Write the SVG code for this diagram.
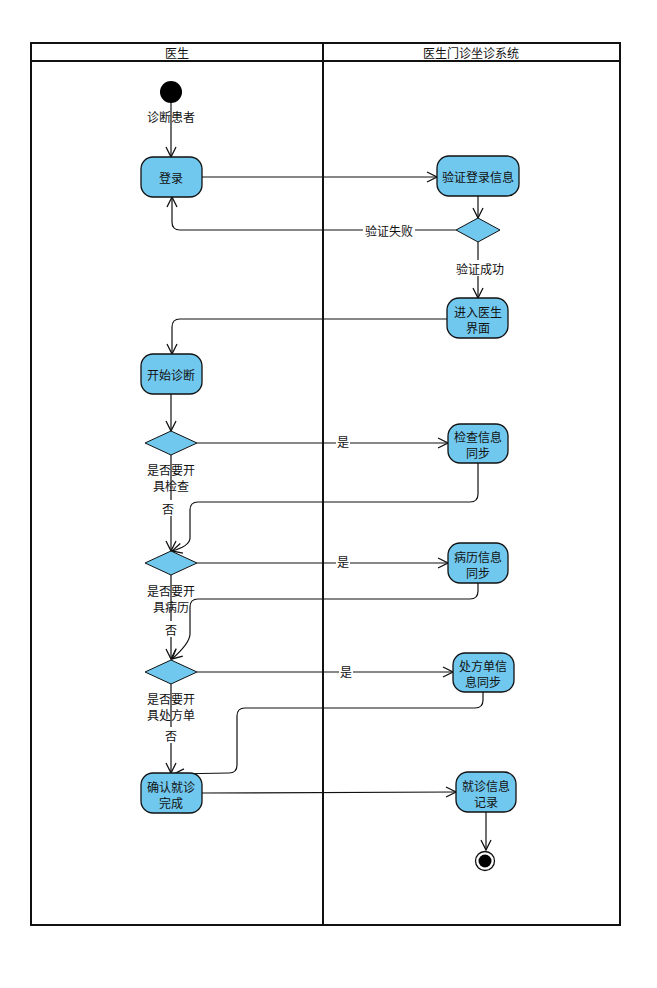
<svg xmlns="http://www.w3.org/2000/svg" width="657" height="988" viewBox="0 0 657 988">
  <style>
    text { font-family: "Noto Sans CJK SC", "Noto Sans", sans-serif; font-size: 12px; fill: #111; text-anchor: middle; dominant-baseline: central; }
    .act { fill: #71C8EE; stroke: #111; stroke-width: 1.3; }
    .dec { fill: #71C8EE; stroke: #111; stroke-width: 1; }
    .lane { fill: none; stroke: #111; stroke-width: 2; }
    .flow { fill: none; stroke: #111; stroke-width: 1.2; marker-end: url(#arrow); }
    .bg { fill: #fff; }
  </style>
  <defs>
    <marker id="arrow" viewBox="0 0 12 12" refX="11" refY="6" markerWidth="12" markerHeight="12" markerUnits="userSpaceOnUse" orient="auto">
      <path d="M1,1 L11,6 L1,11" fill="none" stroke="#111" stroke-width="1.3"/>
    </marker>
  </defs>

  <rect width="657" height="988" fill="#fff"/>

  <!-- swimlanes -->
  <g id="lanes">
    <rect class="lane" x="31" y="43" width="589" height="882"/>
    <line class="lane" x1="31" y1="61" x2="620" y2="61"/>
    <line class="lane" x1="323" y1="43" x2="323" y2="925"/>
    <text x="177" y="52">医生</text>
    <text x="471" y="52">医生门诊坐诊系统</text>
  </g>

  <!-- connectors -->
  <g id="connectors">
    <path class="flow" d="M171,103 L171,157"/>
    <path class="flow" d="M202,177 L437,177"/>
    <path class="flow" d="M478,196 L478,218"/>
    <path class="flow" d="M456,230 L180,230 Q172,230 172,222 L172,197"/>
    <path class="flow" d="M478,242 L478,298"/>
    <path class="flow" d="M447,319 L180,319 Q172,319 172,327 L172,354"/>
    <path class="flow" d="M171,394 L171,431"/>
    <path class="flow" d="M197,443 L448,443"/>
    <path class="flow" d="M478,463 L478,494 Q478,502 470,502 L198,502 Q190,502 190,510 L190,538 Q190,546 172,551"/>
    <path class="flow" d="M171,455 L171,551"/>
    <path class="flow" d="M197,563 L448,563"/>
    <path class="flow" d="M478,583 L478,591 Q478,599 470,599 L198,599 Q190,599 190,607 L190,634 Q190,643 172,659"/>
    <path class="flow" d="M171,575 L171,659"/>
    <path class="flow" d="M197,672 L453,672"/>
    <path class="flow" d="M483,692 L483,700 Q483,708 475,708 L245,708 Q237,708 237,716 L237,765 Q237,773 229,773 L174,774"/>
    <path class="flow" d="M171,684 L171,773"/>
    <path class="flow" d="M202,793 L456,792"/>
    <path class="flow" d="M486,812 L486,850"/>

    <rect class="bg" x="363" y="222" width="52" height="16"/>
    <text x="389" y="230">验证失败</text>
    <rect class="bg" x="455" y="260" width="48" height="16"/>
    <text x="480" y="268">验证成功</text>
    <rect class="bg" x="336" y="434" width="14" height="16"/>
    <text x="343" y="441">是</text>
    <rect class="bg" x="336" y="554" width="14" height="16"/>
    <text x="343" y="561">是</text>
    <rect class="bg" x="339" y="663" width="14" height="16"/>
    <text x="346" y="671">是</text>
    <rect class="bg" x="162" y="500" width="14" height="16"/>
    <text x="168" y="508">否</text>
    <rect class="bg" x="164" y="621" width="14" height="16"/>
    <text x="171" y="629">否</text>
    <rect class="bg" x="164" y="727" width="14" height="16"/>
    <text x="171" y="735">否</text>
  </g>

  <g id="start">
    <circle cx="171" cy="92" r="11" fill="#000"/>
    <text x="171" y="116">诊断患者</text>
  </g>

  <g id="login">
    <rect class="act" x="141" y="157" width="61" height="40" rx="12"/>
    <text x="171" y="177">登录</text>
  </g>

  <g id="verify">
    <rect class="act" x="437" y="156" width="82" height="40" rx="12"/>
    <text x="478" y="176">验证登录信息</text>
  </g>

  <g id="verifyDecision">
    <polygon class="dec" points="478,218 500,230 478,242 456,230"/>
  </g>

  <g id="enter">
    <rect class="act" x="447" y="298" width="61" height="40" rx="12"/>
    <text x="478" y="311">进入医生</text>
    <text x="478" y="327">界面</text>
  </g>

  <g id="startDiag">
    <rect class="act" x="141" y="354" width="61" height="40" rx="12"/>
    <text x="171" y="374">开始诊断</text>
  </g>

  <g id="checkDecision">
    <polygon class="dec" points="171,431 197,443 171,455 145,443"/>
    <text x="171" y="469">是否要开</text>
    <text x="171" y="485">具检查</text>
  </g>

  <g id="checkSync">
    <rect class="act" x="448" y="424" width="60" height="39" rx="12"/>
    <text x="478" y="436">检查信息</text>
    <text x="478" y="452">同步</text>
  </g>

  <g id="recordDecision">
    <polygon class="dec" points="171,551 197,563 171,575 145,563"/>
    <text x="171" y="590">是否要开</text>
    <text x="171" y="606">具病历</text>
  </g>

  <g id="recordSync">
    <rect class="act" x="448" y="543" width="60" height="40" rx="12"/>
    <text x="478" y="556">病历信息</text>
    <text x="478" y="572">同步</text>
  </g>

  <g id="rxDecision">
    <polygon class="dec" points="171,660 197,672 171,684 145,672"/>
    <text x="171" y="698">是否要开</text>
    <text x="171" y="714">具处方单</text>
  </g>

  <g id="rxSync">
    <rect class="act" x="453" y="653" width="61" height="39" rx="12"/>
    <text x="483" y="665">处方单信</text>
    <text x="483" y="681">息同步</text>
  </g>

  <g id="confirm">
    <rect class="act" x="141" y="773" width="61" height="40" rx="12"/>
    <text x="171" y="786">确认就诊</text>
    <text x="171" y="802">完成</text>
  </g>

  <g id="visitRecord">
    <rect class="act" x="456" y="772" width="60" height="40" rx="12"/>
    <text x="486" y="785">就诊信息</text>
    <text x="486" y="801">记录</text>
  </g>

  <g id="end">
    <circle cx="485" cy="861" r="9.5" fill="#fff" stroke="#111" stroke-width="1.3"/>
    <circle cx="485" cy="861" r="6.5" fill="#000"/>
  </g>
</svg>
